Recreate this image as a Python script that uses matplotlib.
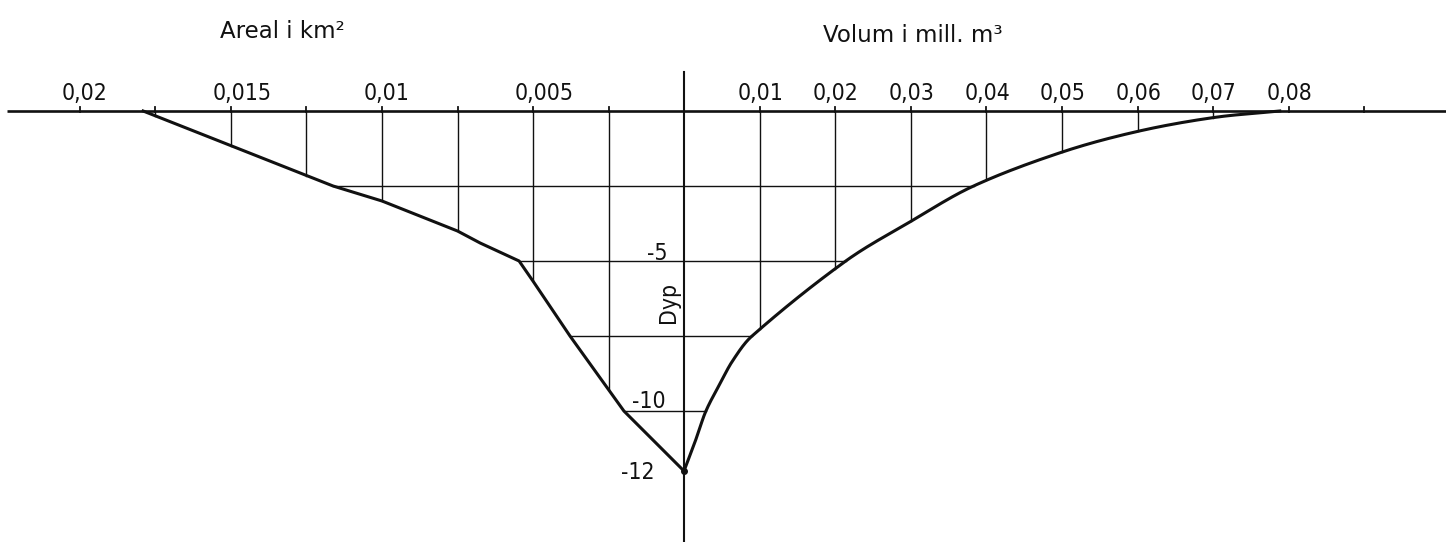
import numpy as np
import matplotlib
matplotlib.use("Agg")
import matplotlib.pyplot as plt

plt.rcParams['font.family'] = ['DejaVu Sans']

# area curve (left side): depth in m, area in km2
area_depth = [0, -2.5, -3.0, -4.0, -4.4, -5.0, -5.67, -7.5, -10.0, -12.0]
area_km2 = [0.01791, 0.01162, 0.0100, 0.0075, 0.00675, 0.00546, 0.0050,
            0.003775, 0.00199, 0.0]

# volume curve (right side): depth in m, volume in mill. m3
vol_depth = [0, -0.22, -0.68, -1.37, -2.5, -3.68, -5.0, -7.5,
             -8.3, -9.07, -10.0, -10.86, -12.0]
vol_mill_m3 = [0.0788, 0.07, 0.06, 0.05, 0.0383, 0.03, 0.0214,
               0.0090, 0.0065, 0.0048, 0.0029, 0.0017, 0.0]

area_ticks = [0.02, 0.0175, 0.015, 0.0125, 0.01, 0.0075, 0.005, 0.0025]
area_labels = {0.02: "0,02", 0.015: "0,015", 0.01: "0,01", 0.005: "0,005"}
vol_ticks = [0.01, 0.02, 0.03, 0.04, 0.05, 0.06, 0.07, 0.08, 0.09]
vol_labels = ["0,01", "0,02", "0,03", "0,04", "0,05", "0,06", "0,07", "0,08"]
depth_levels = [-2.5, -5, -7.5, -10]
depth_labels = ["-5", "-10", "-12"]
depth_label_pos = [-5, -10, -12]

W, H = 1446, 542
X0 = 684          # pixel column of the depth axis
Y0 = 111          # pixel row of the surface
PX_M = 30.0       # pixels per metre
PX_AREA = 75.5 / 0.0025
PX_VOL = 75.6 / 0.01


def smooth_curve(xs, ys, sx, sy, k=24):
    # cubic pieces through the points, tangent length limited per segment
    P = np.column_stack([np.asarray(xs) * sx, np.asarray(ys) * sy])
    n = len(P)
    tang = []
    for i in range(n):
        t = P[min(i + 1, n - 1)] - P[max(i - 1, 0)]
        tang.append(t / np.hypot(*t))
    out = [P[:1]]
    s = np.linspace(0, 1, k + 1)[1:, None]
    for i in range(n - 1):
        L = np.hypot(*(P[i + 1] - P[i])) / 3
        p0, p3 = P[i], P[i + 1]
        p1, p2 = p0 + tang[i] * L, p3 - tang[i + 1] * L
        out.append((1 - s) ** 3 * p0 + 3 * (1 - s) ** 2 * s * p1
                   + 3 * (1 - s) * s ** 2 * p2 + s ** 3 * p3)
    out = np.vstack(out)
    return out[:, 0] / sx, out[:, 1] / sy


fig = plt.figure(figsize=(W / 100, H / 100), dpi=100)
fig.patch.set_facecolor('white')
axL = fig.add_axes([0, 0, X0 / W, 1])
axR = fig.add_axes([X0 / W, 0, 1 - X0 / W, 1])
ylim = (-(H - Y0) / PX_M, Y0 / PX_M)
axL.set_xlim(X0 / PX_AREA, 0)
axR.set_xlim(0, (W - X0) / PX_VOL)
for ax in (axL, axR):
    ax.set_ylim(*ylim)
    ax.axis('off')

ink = '#111111'
vx, vy = smooth_curve(vol_mill_m3, vol_depth, PX_VOL, PX_M)
a_rev = (area_km2[::-1], area_depth[::-1])
v_rev = (vx[::-1], vy[::-1])

# surface line and depth axis
axL.plot([(X0 - 7) / PX_AREA, 0], [0, 0], color=ink, lw=1.9, solid_capstyle='butt')
axR.plot([0, (W - X0) / PX_VOL], [0, 0], color=ink, lw=1.9, solid_capstyle='butt')
axR.plot([0, 0], [1.3, ylim[0]], color=ink, lw=1.5, clip_on=False)

# ticks and vertical grid lines, area side
for a in area_ticks:
    axL.plot([a, a], [0.13, -0.03], color=ink, lw=1.3)
    if a < area_km2[0]:
        d = np.interp(a, *a_rev)
        axL.plot([a, a], [0, d], color=ink, lw=1.0)
    if a in area_labels:
        axL.annotate(area_labels[a], xy=(a, 0), xytext=(-13.5, 8),
                     textcoords='offset points', ha='left', va='baseline',
                     fontsize=16.5, fontstretch='condensed', color=ink)

# ticks and vertical grid lines, volume side
for i, v in enumerate(vol_ticks):
    axR.plot([v, v], [0.13, -0.03], color=ink, lw=1.3)
    if v < vol_mill_m3[0]:
        d = np.interp(v, *v_rev)
        axR.plot([v, v], [0, d], color=ink, lw=1.0)
    if i < len(vol_labels):
        axR.annotate(vol_labels[i], xy=(v, 0), xytext=(-16, 8),
                     textcoords='offset points', ha='left', va='baseline',
                     fontsize=16.5, fontstretch='condensed', color=ink)

# horizontal depth lines between the two curves
for d in depth_levels:
    axL.plot([np.interp(d, area_depth[::-1], area_km2[::-1]), 0], [d, d],
             color=ink, lw=1.0)
    axR.plot([0, np.interp(d, vy[::-1], vx[::-1])], [d, d], color=ink, lw=1.0)

# the curves
axL.plot(area_km2, area_depth, color=ink, lw=2.2, solid_joinstyle='round')
axR.plot(vx, vy, color=ink, lw=2.2, solid_joinstyle='round')
axR.plot([0], [-12], 'o', color=ink, ms=4, clip_on=False)

# depth labels
offsets = [(-12, 1), (-13.5, 2.5), (-21, -6)]
for lab, d, off in zip(depth_labels, depth_label_pos, offsets):
    axL.annotate(lab, xy=(0, d), xytext=off, textcoords='offset points',
                 ha='right', va='baseline', fontsize=16.5,
                 fontstretch='condensed', color=ink)

fig.text(668 / W, 1 - 302 / H, "Dyp", rotation=90, ha='center', va='center',
         fontsize=16.5, fontstretch='condensed', color=ink)
fig.text(220 / W, 1 - 38 / H, "Areal i km²", ha='left', va='baseline',
         fontsize=16.5, color=ink)
fig.text(823 / W, 1 - 42 / H, "Volum i mill. m³", ha='left', va='baseline',
         fontsize=16.5, color=ink)

fig.savefig("out.png", dpi=100, facecolor='white')
